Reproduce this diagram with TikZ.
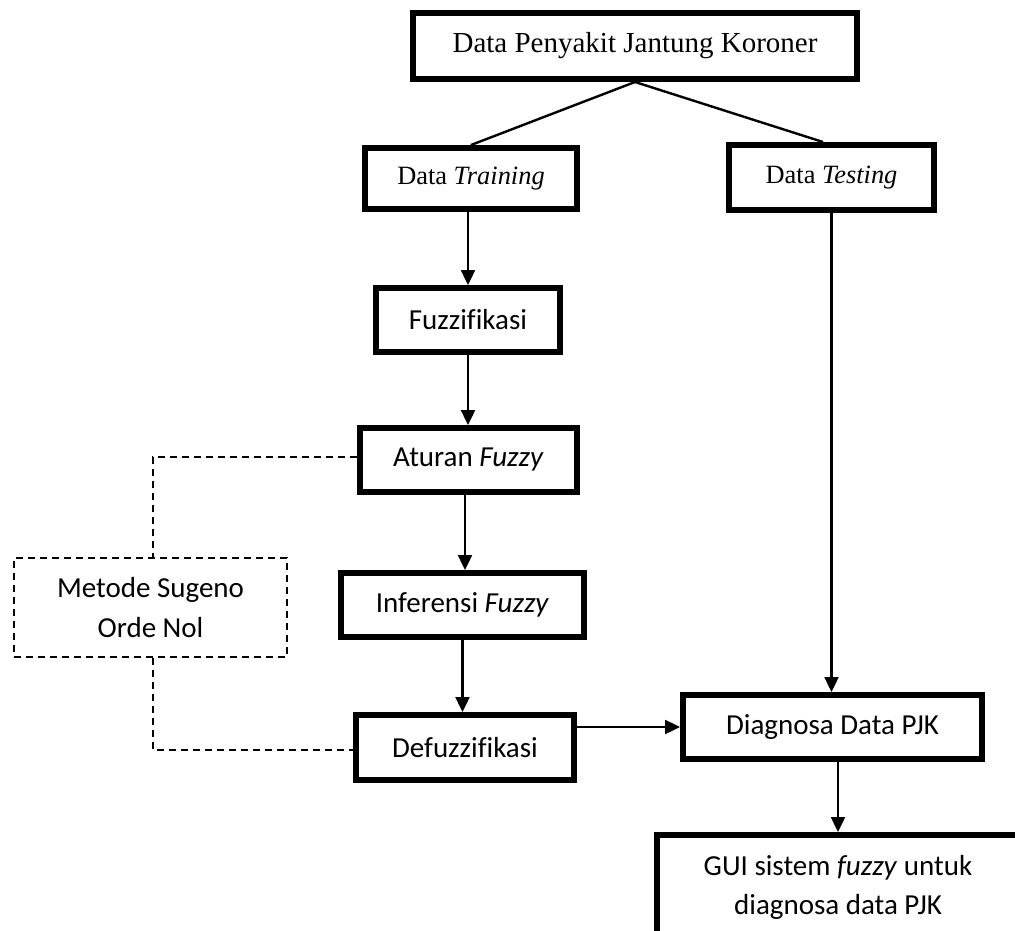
\documentclass[tikz,border=0pt]{standalone}
\usepackage{fontspec}
\setmainfont[Ligatures=NoCommon]{Carlito}
\newfontfamily\tnr{Liberation Serif}
\usetikzlibrary{arrows.meta,calc}
\tikzset{
  box/.style={draw=black, line width=6pt, inner sep=0pt, align=center, fill=white,
              font=\fontsize{29}{39}\selectfont},
  tbox/.style={box, font=\tnr\fontsize{26.4}{32}\selectfont},
  dbox/.style={draw=black, line width=2pt, dash pattern=on 7pt off 5pt, inner sep=0pt,
              align=center, font=\fontsize{29}{40}\selectfont},
  conn/.style={draw=black, line width=2.4pt},
  arr/.style={conn, -{Triangle[length=15pt,width=14pt]}},
  dconn/.style={draw=black, line width=2pt, dash pattern=on 7pt off 5pt}
}
\begin{document}
\begin{tikzpicture}[x=1pt,y=-1pt]
\useasboundingbox (0,0) rectangle (1015,931);
\clip (0,0) rectangle (1015,931);

\node[box, font=\tnr\fontsize{29}{34}\selectfont, minimum width=444pt, minimum height=66pt] (top) at (635,46) {Data Penyakit Jantung Koroner};
\node[tbox, minimum width=212pt, minimum height=61pt] (train) at (471,178.5) {Data \textit{Training}};
\node[tbox, minimum width=205pt, minimum height=65pt] (test) at (831.5,177.5) {Data \textit{Testing}};
\node[box, minimum width=184pt, minimum height=64pt] (fuzz) at (468,320) {Fuzzifikasi};
\node[box, minimum width=217pt, minimum height=64pt] (atur) at (468.5,460) {Aturan \textit{Fuzzy}};
\node[box, minimum width=243pt, minimum height=64pt] (infer) at (462.5,605) {Inferensi \textit{Fuzzy}};
\node[box, minimum width=218pt, minimum height=65pt] (defuzz) at (465,747.5) {Defuzzifikasi};
\node[box, minimum width=299pt, minimum height=64pt] (diag) at (832.5,727) {Diagnosa Data PJK};
\node[box, minimum width=362pt, minimum height=105pt] (gui) at (838,887.5) {GUI sistem \textit{fuzzy} untuk\\diagnosa data PJK};
\node[dbox, minimum width=273pt, minimum height=99pt] (metode) at (150.5,607.5) {Metode Sugeno\\Orde Nol};

\coordinate (dtop) at (153,457);
\coordinate (dbot) at (153,750);
\coordinate (a2) at (465,495);
\coordinate (testin) at (823,142);

\draw[conn] (top.south) -- (train.north);
\draw[conn] (top.south) -- (testin);
\draw[arr] (fuzz.north |- train.south) -- (fuzz.north);
\draw[arr] (fuzz.south) -- (fuzz.south |- atur.north);
\draw[arr] (a2) -- (a2 |- infer.north);
\draw[arr] (infer.south) -- (infer.south |- defuzz.north);
\draw[arr] (test.south) -- (test.south |- diag.north);
\draw[arr] (defuzz.east |- diag.west) -- (diag.west);
\draw[arr] (gui.north |- diag.south) -- (gui.north);

\draw[dconn] (atur.west |- dtop) -- (dtop) -- (dtop |- metode.north);
\draw[dconn] (dbot |- metode.south) -- (dbot) -- (defuzz.west |- dbot);
\end{tikzpicture}
\end{document}
